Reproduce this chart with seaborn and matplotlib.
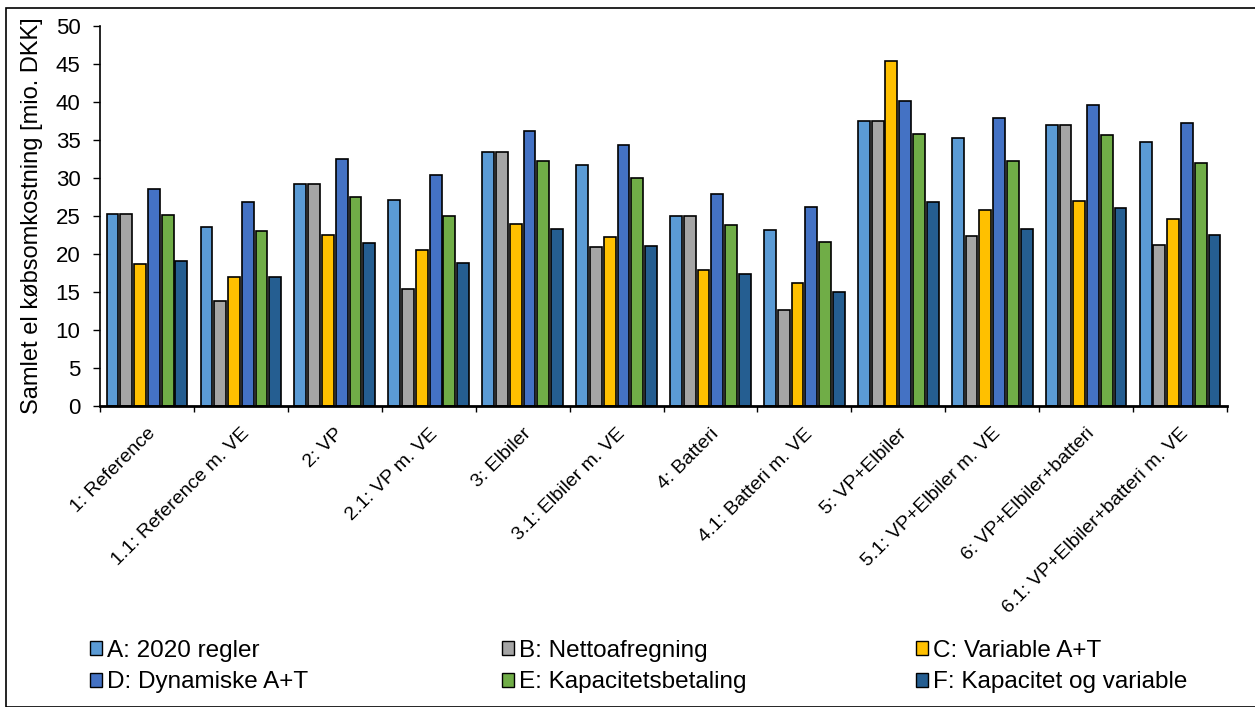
import pandas as pd
import seaborn as sns
import numpy as np
import matplotlib.pyplot as plt
from matplotlib.patches import Patch, Rectangle

scenarier = ['1: Reference', '1.1: Reference m. VE', '2: VP', '2.1: VP m. VE',
             '3: Elbiler', '3.1: Elbiler m. VE', '4: Batteri', '4.1: Batteri m. VE',
             '5: VP+Elbiler', '5.1: VP+Elbiler m. VE', '6: VP+Elbiler+batteri',
             '6.1: VP+Elbiler+batteri m. VE']

serier = ['A: 2020 regler', 'B: Nettoafregning', 'C: Variable A+T',
          'D: Dynamiske A+T', 'E: Kapacitetsbetaling', 'F: Kapacitet og variable']

A = [25.2, 23.5, 29.2, 27.1, 33.4, 31.7, 24.9, 23.1, 37.4, 35.2, 37.0, 34.7]
B = [25.2, 13.8, 29.2, 15.3, 33.4, 20.9, 24.9, 12.6, 37.4, 22.3, 37.0, 21.2]
C = [18.7, 17.0, 22.5, 20.5, 23.9, 22.2, 17.9, 16.1, 45.4, 25.8, 26.9, 24.6]
D = [28.5, 26.8, 32.4, 30.4, 36.1, 34.3, 27.9, 26.1, 40.1, 37.9, 39.6, 37.2]
E = [25.1, 23.0, 27.4, 24.9, 32.2, 29.9, 23.8, 21.6, 35.8, 32.2, 35.6, 32.0]
F = [19.0, 16.9, 21.4, 18.8, 23.3, 21.0, 17.3, 15.0, 26.8, 23.2, 26.0, 22.5]

farver = ['#5B9BD5', '#A5A5A5', '#FFC000', '#4472C4', '#70AD47', '#255E91']

rows = []
for navn, vals in zip(serier, [A, B, C, D, E, F]):
    for s, v in zip(scenarier, vals):
        rows.append({'Scenarie': s, 'Serie': navn, 'Værdi': v})
df = pd.DataFrame(rows)

sns.set_style('white')
plt.rcParams['font.family'] = ['Liberation Sans', 'DejaVu Sans']
for key in ['text.color', 'axes.labelcolor', 'xtick.color', 'ytick.color']:
    plt.rcParams[key] = 'black'

fig = plt.figure(figsize=(12.55, 7.07), dpi=100)
ax = fig.add_axes([100 / 1255, 1 - 405.7 / 707, 1127 / 1255, 380 / 707])

sns.barplot(data=df, x='Scenarie', y='Værdi', hue='Serie', palette=farver,
            order=scenarier, hue_order=serier, width=0.88, gap=0.14,
            edgecolor='black', linewidth=1.2, saturation=1, ax=ax, legend=False)

ax.set_ylim(0, 50)
ax.set_xlim(-0.5, len(scenarier) - 0.5)
ax.set_yticks(range(0, 51, 5))
ax.tick_params(axis='y', labelsize=16, length=5, width=1, pad=9, direction='out', left=True)
ax.set_xticks(range(len(scenarier)))
ax.set_xticklabels(scenarier, rotation=45, ha='right', rotation_mode='anchor', fontsize=14)
ax.tick_params(axis='x', length=0, pad=14)
ax.set_xticks(np.arange(-0.5, len(scenarier)), minor=True)
ax.tick_params(axis='x', which='minor', length=4, width=1, direction='out', bottom=True)
ax.set_xlabel('')
ax.set_ylabel('Samlet el købsomkostning [mio. DKK]', fontsize=17)
ax.yaxis.set_label_coords(-0.0506, 0.5)
sns.despine(ax=ax)
for sp in ['left', 'bottom']:
    ax.spines[sp].set_color('black')
ax.spines['bottom'].set_linewidth(2)
ax.spines['left'].set_linewidth(1.2)

# legend: three columns, row-wise order like Excel
handles = [Patch(facecolor=c, edgecolor='black', linewidth=1) for c in farver]
kol_x = [90, 502, 916]
for k in range(3):
    fig.legend([handles[k], handles[k + 3]], [serier[k], serier[k + 3]],
               loc='upper left', bbox_to_anchor=(kol_x[k] / 1255, 1 - 640 / 707),
               frameon=False, fontsize=17.5, handlelength=0.5, handleheight=0.5,
               handletextpad=0.18, labelspacing=0.38, borderpad=0, borderaxespad=0)

fig.patches.append(Rectangle((6 / 1255, 0), 1260 / 1255, 1 - 8 / 707, transform=fig.transFigure,
                             fill=False, edgecolor='black', linewidth=1.2))

fig.savefig('out.png', dpi=100)
plt.close()
